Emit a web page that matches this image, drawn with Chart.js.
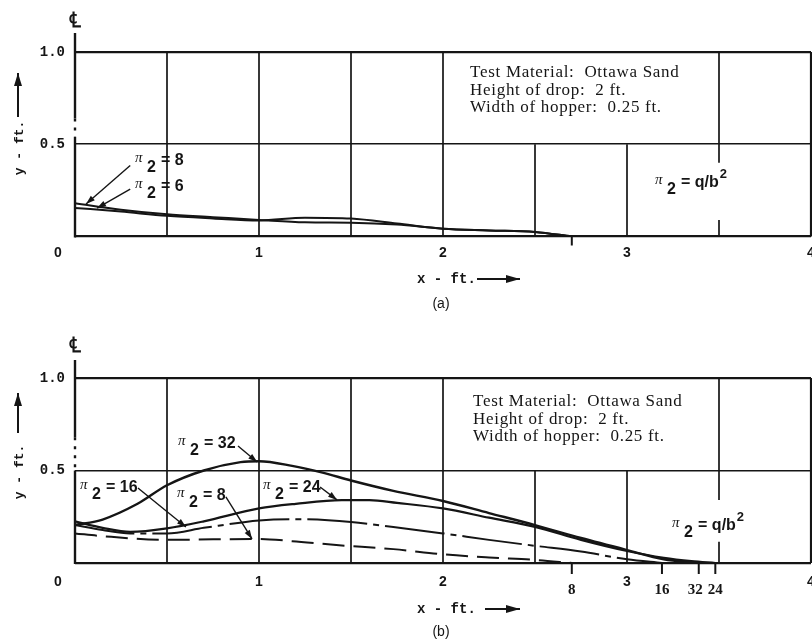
<!DOCTYPE html>
<html><head><meta charset="utf-8">
<script src="https://cdn.jsdelivr.net/npm/chart.js@4/dist/chart.umd.min.js"></script>
<style>
html,body{margin:0;padding:0;background:#fff;}
#wrap{position:relative;width:812px;height:644px;overflow:hidden;background:#fff;}
canvas{position:absolute;left:0;}
</style></head><body>
<div id="wrap">
<canvas id="ca" width="812" height="322" style="top:0"></canvas>
<canvas id="cb" width="812" height="322" style="top:322px"></canvas>
</div>
<script>
// ---------- Panel (a): surface profiles, pi2 = 8 and pi2 = 6 ----------
const aX   = [0, 0.25, 0.5, 0.75, 1.0, 1.25, 1.5, 1.75, 2.0, 2.25, 2.5, 2.7];
const aPi8 = [0.18, 0.145, 0.12, 0.105, 0.09, 0.077, 0.075, 0.065, 0.042, 0.033, 0.025, 0];
const aPi6 = [0.155, 0.135, 0.112, 0.098, 0.087, 0.102, 0.097, 0.07, 0.042, 0.033, 0.025, 0];

// ---------- Panel (b): surface profiles, pi2 = 32, 24, 16, 8 ----------
const b32X = [0, 0.15, 0.34, 0.5, 0.7, 0.9, 1.0, 1.18, 1.34, 1.5, 1.73, 2.0, 2.25, 2.5, 2.75, 3.0, 3.2, 3.39];
const b32Y = [0.205, 0.235, 0.32, 0.42, 0.5, 0.545, 0.55, 0.525, 0.49, 0.446, 0.39, 0.335, 0.27, 0.205, 0.135, 0.07, 0.02, 0];
const b24X = [0, 0.15, 0.3, 0.5, 0.7, 1.0, 1.2, 1.45, 1.6, 1.75, 2.0, 2.25, 2.5, 2.75, 3.0, 3.2, 3.35, 3.48];
const b24Y = [0.225, 0.19, 0.168, 0.187, 0.225, 0.295, 0.32, 0.34, 0.34, 0.325, 0.295, 0.245, 0.195, 0.125, 0.065, 0.028, 0.01, 0];
const b16X = [0, 0.15, 0.3, 0.5, 0.7, 1.0, 1.18, 1.5, 1.73, 2.0, 2.25, 2.5, 2.75, 3.0, 3.19];
const b16Y = [0.205, 0.178, 0.16, 0.16, 0.19, 0.23, 0.237, 0.222, 0.194, 0.16, 0.125, 0.093, 0.062, 0.02, 0];
const b8X  = [0, 0.15, 0.5, 0.75, 1.0, 1.18, 1.42, 1.73, 2.0, 2.25, 2.5, 2.7];
const b8Y  = [0.16, 0.145, 0.125, 0.128, 0.13, 0.118, 0.097, 0.075, 0.047, 0.03, 0.017, 0];

// ---------- tick labels ----------
const xTickLabels = ['0', '1', '2', '3', '4'];
const yTickLabels = ['0', '0.5', '1.0'];
const endTicksA  = [2.7];
const endLabelsA = [''];
const endTicksB  = [2.70, 3.19, 3.39, 3.48];
const endLabelsB = ['8', '16', '32', '24'];

const INK = '#151515';
const pts = (xs, ys) => xs.map((x, i) => ({x, y: ys[i]}));

function seg(ctx, x0, y0, x1, y1){ ctx.beginPath(); ctx.moveTo(x0, y0); ctx.lineTo(x1, y1); ctx.stroke(); }
function arrow(ctx, x0, y0, x1, y1, len, half){
  seg(ctx, x0, y0, x1, y1);
  const ang = Math.atan2(y1 - y0, x1 - x0);
  ctx.beginPath();
  ctx.moveTo(x1, y1);
  ctx.lineTo(x1 - len*Math.cos(ang) + half*Math.sin(ang), y1 - len*Math.sin(ang) - half*Math.cos(ang));
  ctx.lineTo(x1 - len*Math.cos(ang) - half*Math.sin(ang), y1 - len*Math.sin(ang) + half*Math.cos(ang));
  ctx.closePath(); ctx.fill();
}
function piLabel(ctx, x, y, rest, sup){
  ctx.textAlign = 'left'; ctx.textBaseline = 'alphabetic';
  ctx.font = 'italic 15px "Liberation Serif"';
  ctx.fillText('π', x, y - 3);
  ctx.font = 'bold 16px "Liberation Sans"';
  ctx.fillText('2', x + 12, y + 7);
  ctx.fillText('= ' + rest, x + 26, y);
  if (sup) {
    const w = ctx.measureText('= ' + rest).width;
    ctx.font = 'bold 13px "Liberation Sans"';
    ctx.fillText(sup, x + 27 + w, y - 9);
  }
}

function makeDeco(cfg){
  return {
    id: 'deco' + cfg.name,
    beforeDatasetsDraw(ch){
      const ctx = ch.ctx, xs = ch.scales.x, ys = ch.scales.y;
      ctx.save(); ctx.strokeStyle = INK; ctx.lineWidth = 1.7;
      for (const [xv, y0, y1] of cfg.vsegs) {
        const x = xs.getPixelForValue(xv);
        seg(ctx, x, ys.getPixelForValue(y0), x, ys.getPixelForValue(y1));
      }
      ctx.restore();
    },
    afterDraw(ch){
      const ctx = ch.ctx, xs = ch.scales.x, ys = ch.scales.y;
      const X = v => xs.getPixelForValue(v), Y = v => ys.getPixelForValue(v);
      ctx.save(); ctx.strokeStyle = INK; ctx.fillStyle = INK;
      // right border (x = 4)
      ctx.lineWidth = 2.2; seg(ctx, X(4), Y(0), X(4), Y(1));
      // left axis (centre line) with a broken part
      const L = X(0);
      ctx.lineWidth = 2.4;
      seg(ctx, L, Y(1) - cfg.ext, L, Y(cfg.gap[1]));
      seg(ctx, L, Y(cfg.gap[0]), L, Y(0) + 1);
      ctx.setLineDash([3, 6]); seg(ctx, L, Y(cfg.gap[1]), L, Y(cfg.gap[0])); ctx.setLineDash([]);
      // centre line symbol
      ctx.font = 'bold 21px "DejaVu Serif"'; ctx.textAlign = 'center'; ctx.textBaseline = 'middle';
      ctx.fillText('\u2104', L, Y(1) - cfg.clDy);
      // "0" tick label
      ctx.font = 'bold 14px "Liberation Sans"';
      ctx.fillText(xTickLabels[0], L - 17, Y(0) + cfg.tickPad + 8.4);
      // end-of-profile ticks
      ctx.lineWidth = 2;
      ctx.font = 'bold 15px "Liberation Serif"';
      const lx = cfg.endTicks.map(v => X(v));
      const lw = cfg.endLabels.map(t => ctx.measureText(t).width);
      const cx = lx.slice();
      for (let i = cx.length - 2; i >= 0; i--) {
        const minGap = (lw[i] + lw[i+1]) / 2 + 5;
        if (cx[i+1] - cx[i] < minGap) cx[i] = cx[i+1] - minGap;
      }
      cfg.endTicks.forEach((v, i) => {
        seg(ctx, lx[i], Y(0), lx[i], Y(0) + cfg.endLen);
        if (cfg.endLabels[i]) ctx.fillText(cfg.endLabels[i], cx[i], Y(0) + cfg.endLabDy);
      });
      // x axis title
      ctx.font = 'bold 14px "Liberation Mono"'; ctx.textAlign = 'left'; ctx.textBaseline = 'alphabetic';
      ctx.fillText('x - ft.', 417, Y(0) + cfg.xtDy);
      ctx.lineWidth = 2;
      arrow(ctx, cfg.xArrow0, Y(0) + cfg.xtDy - 4, 520, Y(0) + cfg.xtDy - 4, 14, 4);
      // y axis title
      ctx.save();
      ctx.translate(20, Y(1) + cfg.ytDy); ctx.rotate(-Math.PI/2);
      ctx.font = 'bold 13px "Liberation Mono"'; ctx.textAlign = 'center'; ctx.textBaseline = 'middle';
      ctx.fillText('y - ft.', 0, 0);
      ctx.restore();
      arrow(ctx, 18, Y(1) + cfg.yArrow[0], 18, Y(1) + cfg.yArrow[1], 13, 4);
      // panel label
      ctx.font = '14px "Liberation Sans"'; ctx.textAlign = 'center'; ctx.textBaseline = 'middle';
      ctx.fillText(cfg.panel, 441, Y(0) + cfg.panelDy);
      // test description
      ctx.font = '17px "Liberation Serif"'; ctx.textAlign = 'left'; ctx.textBaseline = 'alphabetic';
      if ('letterSpacing' in ctx) ctx.letterSpacing = '0.7px';
      cfg.box.lines.forEach((t, i) => ctx.fillText(t, X(cfg.box.x), Y(cfg.box.ys[i])));
      if ('letterSpacing' in ctx) ctx.letterSpacing = '0px';
      // pi labels with leaders
      ctx.lineWidth = 1.4;
      cfg.labels.forEach(l => {
        piLabel(ctx, X(l.x), Y(l.y), l.t, l.sup);
        if (l.from) arrow(ctx, X(l.from[0]), Y(l.from[1]), X(l.to[0]), Y(l.to[1]), 9, 3);
      });
      ctx.restore();
    }
  };
}

function makeChart(id, datasets, geom, deco){
  return new Chart(document.getElementById(id), {
    type: 'line',
    data: {datasets},
    options: {
      responsive: false, animation: false, devicePixelRatio: 1,
      layout: {autoPadding: false, padding: {top: geom.top, left: 0, right: 1, bottom: 0}},
      plugins: {legend: {display: false}, tooltip: {enabled: false}},
      elements: {point: {radius: 0}, line: {cubicInterpolationMode: 'monotone', borderColor: INK, fill: false}},
      scales: {
        x: {type: 'linear', min: 0, max: 4,
            afterFit: s => { s.height = geom.xh; s.paddingLeft = 0; s.paddingRight = 0; },
            border: {display: false},
            grid: {display: false, drawTicks: false},
            ticks: {stepSize: 1, autoSkip: false, maxRotation: 0, padding: geom.tickPad, color: INK,
                    font: {family: '"Liberation Sans"', size: 14, weight: 'bold'},
                    callback: (v, i) => i === 0 ? '' : xTickLabels[i]}},
        y: {min: 0, max: 1,
            afterFit: s => { s.width = 75; s.paddingTop = 0; s.paddingBottom = 0; },
            border: {display: false},
            grid: {drawTicks: false, color: INK, lineWidth: c => (c.tick && c.tick.value === 0.5) ? 1.6 : 2.3},
            ticks: {stepSize: 0.5, padding: 10, color: INK,
                    font: {family: '"Liberation Mono"', size: 14, weight: 'bold'},
                    callback: (v, i) => i === 0 ? '' : yTickLabels[i]}}
      }
    },
    plugins: [makeDeco(deco)]
  });
}

const boxLines = ['Test Material:  Ottawa Sand', 'Height of drop:  2 ft.', 'Width of hopper:  0.25 ft.'];

makeChart('ca', [
  {data: pts(aX, aPi8), borderWidth: 2},
  {data: pts(aX, aPi6), borderWidth: 2}
], {top: 52, xh: 85.5, tickPad: 8}, {
  name: 'A', panel: '(a)', ext: 19, gap: [0.54, 0.64], clDy: 30, tickPad: 8,
  vsegs: [[0.5,0,1],[1,0,1],[1.5,0,1],[2,0,1],[2.5,0,0.5],[3,0,0.5],[3.5,0.4,1],[3.5,0,0.09]],
  endTicks: endTicksA, endLabels: endLabelsA, endLen: 9, endLabDy: 27,
  xtDy: 46.5, xArrow0: 477, ytDy: 96, yArrow: [65, 21], panelDy: 67.5,
  box: {x: 2.147, ys: [0.864, 0.767, 0.675], lines: boxLines},
  labels: [
    {x: 0.326, y: 0.388, t: '8', from: [0.30, 0.385], to: [0.06, 0.176]},
    {x: 0.326, y: 0.247, t: '6', from: [0.30, 0.257], to: [0.12, 0.154]},
    {x: 3.152, y: 0.268, t: 'q/b', sup: '2'}
  ]
});

makeChart('cb', [
  {data: pts(b32X, b32Y), borderWidth: 2.4},
  {data: pts(b24X, b24Y), borderWidth: 2.2},
  {data: pts(b16X, b16Y), borderWidth: 2, borderDash: [60, 6, 6, 6]},
  {data: pts(b8X, b8Y), borderWidth: 2, borderDash: [22, 9]}
], {top: 56, xh: 81, tickPad: 10.5}, {
  name: 'B', panel: '(b)', ext: 18, gap: [0.5, 0.68], clDy: 31, tickPad: 10.5,
  vsegs: [[0.5,0,1],[1,0,1],[1.5,0,1],[2,0,1],[2.5,0,0.5],[3,0,0.5],[3.5,0.34,1],[3.5,0,0.115]],
  endTicks: endTicksB, endLabels: endLabelsB, endLen: 11, endLabDy: 27,
  xtDy: 50, xArrow0: 485, ytDy: 94, yArrow: [55, 15], panelDy: 69,
  box: {x: 2.163, ys: [0.849, 0.751, 0.659], lines: boxLines},
  labels: [
    {x: 0.56, y: 0.622, t: '32', from: [0.886, 0.632], to: [0.99, 0.546]},
    {x: 0.027, y: 0.384, t: '16', from: [0.342, 0.405], to: [0.603, 0.195]},
    {x: 0.554, y: 0.34, t: '8', from: [0.82, 0.357], to: [0.962, 0.13]},
    {x: 1.022, y: 0.384, t: '24', from: [1.332, 0.411], to: [1.424, 0.341]},
    {x: 3.245, y: 0.178, t: 'q/b', sup: '2'}
  ]
});
</script>
</body></html>
